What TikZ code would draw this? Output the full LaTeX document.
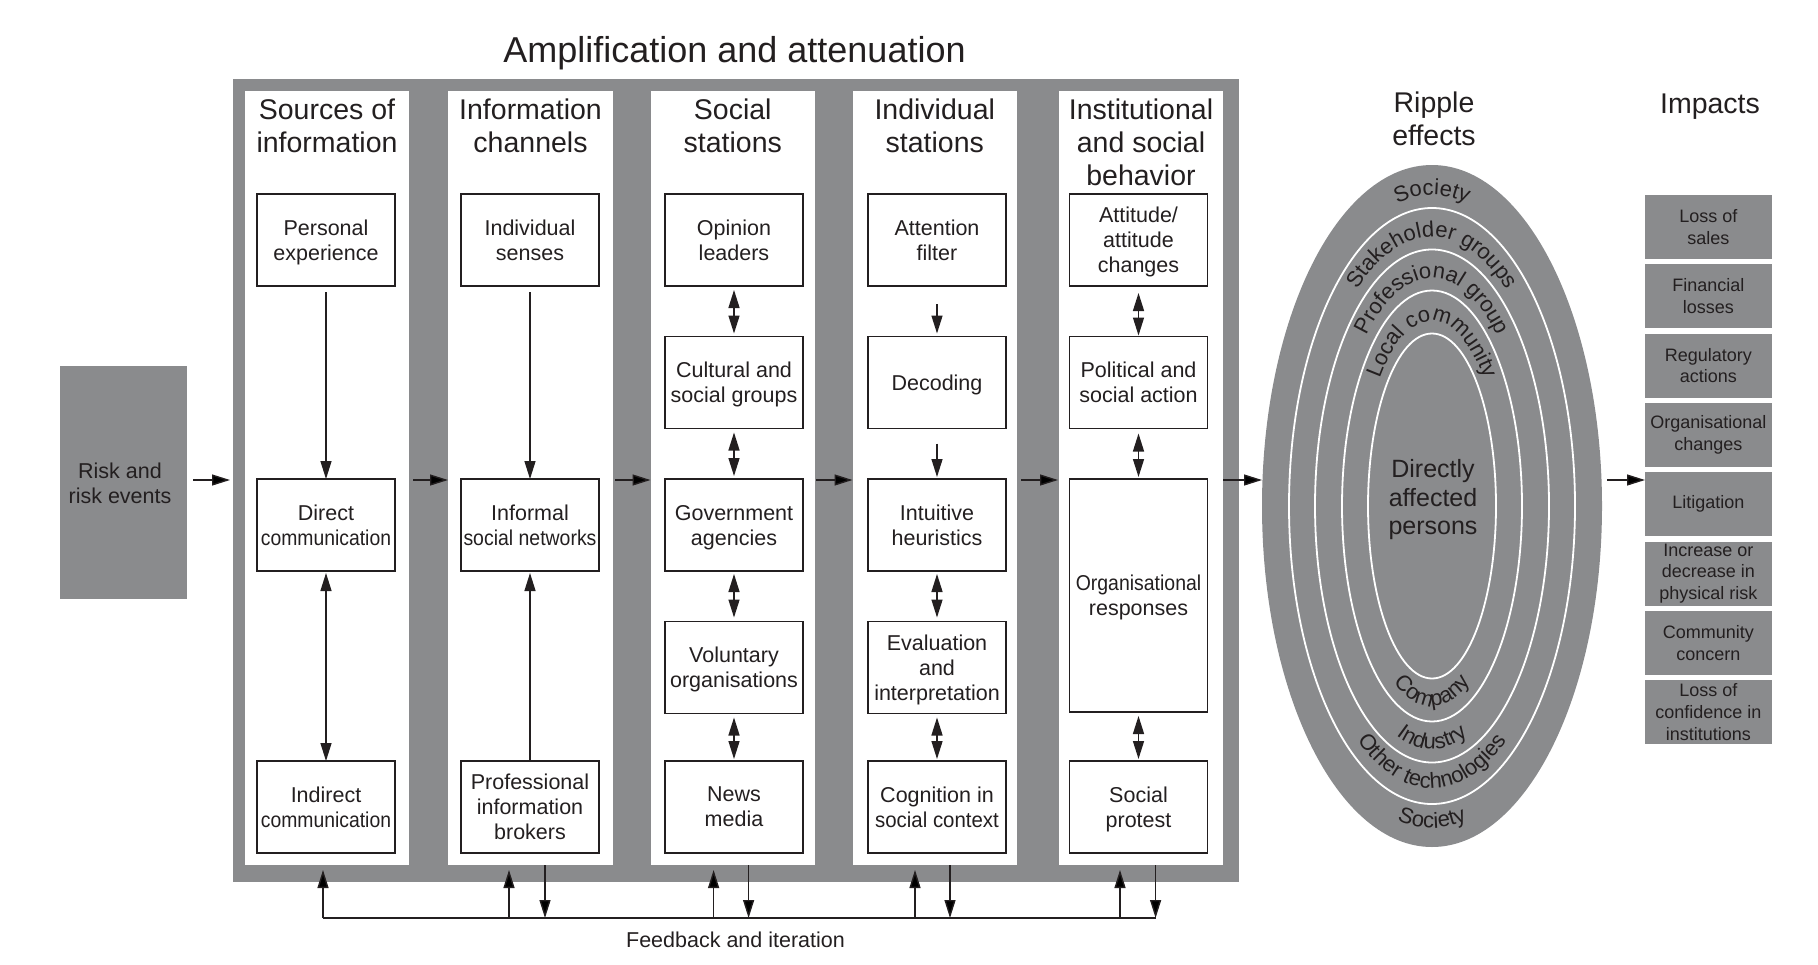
\documentclass[tikz,border=0pt]{standalone}
\usepackage{fontspec}
\usepackage{graphicx}
\setmainfont{Liberation Sans}
\usetikzlibrary{arrows.meta,shapes.geometric,decorations.text,calc}
\definecolor{txt}{RGB}{35,31,32}
\definecolor{grayc}{RGB}{138,139,141}
\newcommand\fTitle{\fontsize{36}{40}\selectfont}
\newcommand\fHead{\fontsize{28.5}{33}\selectfont}
\newcommand\fBox{\fontsize{21.5}{25}\selectfont}
\newcommand\fImp{\fontsize{18}{21.8}\selectfont}
\newcommand\fDir{\fontsize{25}{28.5}\selectfont}
\newcommand\fRing{\fontsize{22}{26}\selectfont}
\newcommand\sq[2]{\scalebox{#1}[1]{#2}}
\begin{document}
\begin{tikzpicture}[x=1pt,y=1pt,
  every node/.style={inner sep=0pt, outer sep=0pt, text=txt},
  bx/.style={draw=txt, line width=1.4pt, fill=white, minimum width=138pt, minimum height=92pt, align=center, font=\fBox, text depth=0pt},
  colbg/.style={fill=white, minimum width=#1, minimum height=774pt},
  head/.style={anchor=north, align=center, font=\fHead},
  imp/.style={fill=grayc, minimum width=126.6pt, minimum height=64pt, align=center, font=\fImp},
  conn/.style={draw=txt, line width=1.4pt},
  arr/.style={conn, -{Triangle[length=18pt,width=11pt]}},
  darr/.style={conn, {Triangle[length=18pt,width=11pt]}-{Triangle[length=18pt,width=11pt]}},
  ring/.style={draw=white, line width=1.8pt},
  ringtext/.style={decorate, decoration={text along path, text align=center, text color=txt, text={|\fRing|#1}}},
]
\useasboundingbox (0,0) rectangle (1818,-964);
\coordinate (ah) at (0,-480);

% title
\node[font=\fTitle, anchor=base] (title) at (734.5,-62) {Amplification and attenuation};

% frame and columns
\node[fill=grayc, minimum width=1005.5pt, minimum height=803pt] (frame) at (735.75,-480.5) {};
\node[colbg=164pt] (col1) at (327,-478) {};
\node[colbg=165pt] (col2) at (530.5,-478) {};
\node[colbg=164.5pt] (col3) at (732.75,-478) {};
\node[colbg=164.5pt] (col4) at (934.75,-478) {};
\node[colbg=164pt] (col5) at (1141,-478) {};

% headers
\node[head] (h1) at (327,-98.5) {Sources of\\information};
\node[head] (h2) at (530.5,-98.5) {Information\\channels};
\node[head] (h3) at (732.75,-98.5) {Social\\stations};
\node[head] (h4) at (934.75,-98.5) {Individual\\stations};
\node[head] (h5) at (1141,-98.5) {Institutional\\and social\\behavior};

% risk
\node[fill=grayc, minimum width=127pt, minimum height=233pt] (risk) at (123.5,-482.5) {};
\node[align=center, font=\fBox] (risktxt) at (120,-483) {Risk and\\risk events};

% column 1
\node[bx] (a1) at (326,-240) {Personal\\experience};
\node[bx] (a3) at (326,-525) {Direct\\\sq{0.9}{communication}};
\node[bx] (a5) at (326,-807) {Indirect\\\sq{0.9}{communication}};
% column 2
\node[bx] (b1) at (530,-240) {Individual\\senses};
\node[bx] (b3) at (530,-525) {Informal\\\sq{0.905}{social networks}};
\node[bx] (b5) at (530,-807) {Professional\\information\\brokers};
% column 3
\node[bx] (c1) at (734,-240) {Opinion\\leaders};
\node[bx] (c2) at (734,-382.5) {Cultural and\\social groups};
\node[bx] (c3) at (734,-525) {Government\\agencies};
\node[bx] (c4) at (734,-667.5) {Voluntary\\organisations};
\node[bx] (c5) at (734,-807) {News\\media};
% column 4
\node[bx] (d1) at (937,-240) {Attention\\filter};
\node[bx] (d2) at (937,-382.5) {Decoding};
\node[bx] (d3) at (937,-525) {Intuitive\\heuristics};
\node[bx] (d4) at (937,-667.5) {Evaluation\\and\\interpretation};
\node[bx] (d5) at (937,-807) {Cognition in\\\sq{0.95}{social context}};
% column 5
\node[bx] (e1) at (1138.5,-240) {Attitude/\\attitude\\changes};
\node[bx] (e2) at (1138.5,-382.5) {Political and\\social action};
\node[bx, minimum height=233pt] (e3) at (1138.5,-595.5) {\sq{0.905}{Organisational}\\responses};
\node[bx] (e5) at (1138.5,-807) {Social\\protest};

% vertical connectors
\draw[arr, shorten <=6pt] (a1) -- (a3);
\draw[darr, shorten <=2pt] (a3) -- (a5);
\draw[arr, shorten <=6pt] (b1) -- (b3);
\draw[arr, shorten >=2pt] (b5) -- (b3);
\draw[darr, shorten <=4pt, shorten >=3pt] (c1) -- (c2);
\draw[darr, shorten <=4pt, shorten >=3pt] (c2) -- (c3);
\draw[darr, shorten <=3pt, shorten >=4pt] (c3) -- (c4);
\draw[darr, shorten <=4pt, shorten >=2pt] (c4) -- (c5);
\draw[arr, shorten <=18pt, shorten >=3pt] (d1) -- (d2);
\draw[arr, shorten <=15pt, shorten >=2pt] (d2) -- (d3);
\draw[darr, shorten <=3pt, shorten >=4pt] (d3) -- (d4);
\draw[darr, shorten <=4pt, shorten >=2pt] (d4) -- (d5);
\draw[darr, shorten <=7pt, shorten >=1pt] (e1) -- (e2);
\draw[darr, shorten <=5pt, shorten >=2pt] (e2) -- (e3);
\draw[darr, shorten <=4pt, shorten >=2pt] (e3) -- (e5);

% ripple ellipse
\coordinate (E) at (1432,-506);
\node[ellipse, fill=grayc, minimum width=340pt, minimum height=682pt] (ell) at (E) {};
\draw[ring] (E) ellipse [x radius=143, y radius=298];
\draw[ring] (E) ellipse [x radius=117, y radius=256.5];
\draw[ring] (E) ellipse [x radius=90, y radius=215.5];
\draw[ring] (E) ellipse [x radius=64, y radius=172.5];
\path[ringtext={Society}] ($(E)+(-151,0)$) arc[start angle=180, end angle=0, x radius=151, y radius=311];
\path[ringtext={Stakeholder groups}] ($(E)+(-125,0)$) arc[start angle=180, end angle=0, x radius=125, y radius=269];
\path[ringtext={Professional group}] ($(E)+(-98,0)$) arc[start angle=180, end angle=0, x radius=98, y radius=228];
\path[ringtext={Local community}] ($(E)+(-72,0)$) arc[start angle=180, end angle=0, x radius=72, y radius=185];
\path[ringtext={Company}] ($(E)+(-81,0)$) arc[start angle=180, end angle=360, x radius=81, y radius=200];
\path[ringtext={Industry}] ($(E)+(-108,0)$) arc[start angle=180, end angle=360, x radius=108, y radius=243];
\path[ringtext={Other technologies}] ($(E)+(-133,0)$) arc[start angle=180, end angle=360, x radius=133, y radius=282.5];
\path[ringtext={Society}] ($(E)+(-158,0)$) arc[start angle=180, end angle=360, x radius=158, y radius=322];
\node[align=center, font=\fDir] (dap) at (1433,-500) {Directly\\affected\\persons};
\node[head] (rip) at (1434,-91.5) {Ripple\\effects};

% impacts
\node[font=\fHead, anchor=base] (imph) at (1710,-113) {Impacts};
\node[imp] (i1) at (1708.3,-227) {Loss of\\sales};
\node[imp] (i2) at (1708.3,-296.3) {Financial\\losses};
\node[imp] (i3) at (1708.3,-365.6) {Regulatory\\actions};
\node[imp] (i4) at (1708.3,-434.9) {Organisational\\changes};
\node[imp] (i5) at (1708.3,-504.2) {Litigation};
\node[imp] (i6) at (1708.3,-573.5) {Increase or\\decrease in\\physical risk};
\node[imp] (i7) at (1708.3,-642.8) {Community\\concern};
\node[imp] (i8) at (1708.3,-712.1) {Loss of\\confidence in\\institutions};

% horizontal flow
\draw[arr, shorten <=6pt, shorten >=3pt] (risk.east |- ah) -- (frame.west |- ah);
\draw[arr, shorten <=4pt] (col1.east |- ah) -- (col2.west |- ah);
\draw[arr, shorten <=2pt] (col2.east |- ah) -- (col3.west |- ah);
\draw[arr, shorten <=1pt] (col3.east |- ah) -- (col4.west |- ah);
\draw[arr, shorten <=4pt, shorten >=1pt] (col4.east |- ah) -- (col5.west |- ah);
\draw[arr] (col5.east |- ah) -- (ell.west |- ah);
\draw[arr, shorten <=5pt] (ell.east |- ah) -- (i5.west |- ah);

% feedback loop
\coordinate (fu1) at (323,-918);
\coordinate (fu2) at (509,-918);
\coordinate (fu3) at (713.6,-918);
\coordinate (fu4) at (915,-918);
\coordinate (fu5) at (1120,-918);
\coordinate (fd2) at (545,-918);
\coordinate (fd3) at (748.6,-918);
\coordinate (fd4) at (950,-918);
\coordinate (fd5) at (1155.6,-918);
\draw[conn] (fu1) -- (fd5);
\draw[arr, shorten >=5pt] (fu1) -- (fu1 |- col1.south);
\draw[arr, shorten >=5pt] (fu2) -- (fu2 |- col2.south);
\draw[arr, shorten >=5pt] (fu3) -- (fu3 |- col3.south);
\draw[arr, shorten >=5pt] (fu4) -- (fu4 |- col4.south);
\draw[arr, shorten >=5pt] (fu5) -- (fu5 |- col5.south);
\draw[arr] (fd2 |- col2.south) -- (fd2);
\draw[arr] (fd3 |- col3.south) -- (fd3);
\draw[arr] (fd4 |- col4.south) -- (fd4);
\draw[arr] (fd5 |- col5.south) -- (fd5);
\node[font=\fBox, anchor=base] (fbt) at (735.5,-947) {Feedback and iteration};
\end{tikzpicture}
\end{document}
